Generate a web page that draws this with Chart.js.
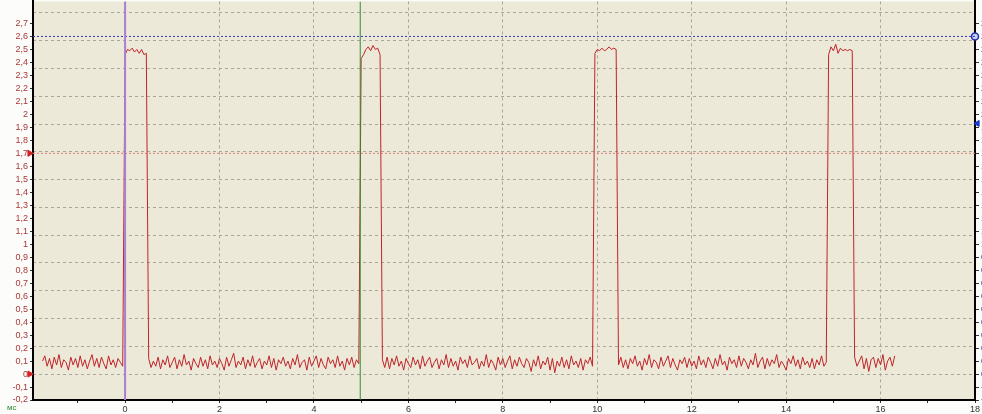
<!DOCTYPE html>
<html>
<head>
<meta charset="utf-8">
<title>Oscillogram</title>
<script src="https://cdn.jsdelivr.net/npm/chart.js@4/dist/chart.umd.min.js"></script>
<style>
  html, body { margin: 0; padding: 0; background: #fcfcfa; overflow: hidden; }
  #wrap { position: absolute; left: 0; top: -6px; width: 982px; height: 420px; }
  #unit { position: absolute; left: 7px; top: 403px; font: 8px "Liberation Sans", Arial, sans-serif; color: #2e8b2e; }
</style>
</head>
<body>
<div id="wrap"><canvas id="scope" width="982" height="420"></canvas></div>
<span id="unit">мс</span>
<script>
/* Scope trace: one sample every DT ms starting at T0, values in 0.01 V. */
var T0 = -1.75, DT = 0.05;
var LOW_1 = [10,14,6,12,4,13,7,15,5,11, 9,3,13,7,12,5,14,6,11,4, 10,15,6,12,5,13,8,4,14,7, 11,5,12,9,6];
var PULSE_1 = [246,250,249,251,248,250,247,250,246,247];
var LOW_2 = [12,5,10,6,13,4,11,7,14,5, 9,13,4,11,6,15,7,10,3,12, 8,5,13,6,11,4,14,7,10,5,
  12,8,3,13,6,11,16,5,10,7, 13,4,11,6,14,5,9,12,4,10, 7,14,5,12,3,11,8,13,6,10,
  4,12,7,15,5,9,11,3,13,6, 10,14,5,12,7,4,13,8,11,5, 14,6,10,3,12,7,13,5,11,8];
var PULSE_2 = [243,246,250,252,249,253,250,251,246];
var LOW_3 = [11,5,13,4,12,7,14,6,10,3, 12,8,5,13,7,11,4,14,6,10, 13,5,9,12,4,11,7,15,5,12,
  6,10,3,13,8,11,5,14,7,9, 12,4,10,6,15,5,11,8,3,13, 7,12,5,10,14,4,11,6,13,8,
  5,12,9,2,11,6,14,4,10,7, 13,3,12,1,10,6,13,5,11,4, 14,7,10,5,12,3,11,8,13,6];
var PULSE_3 = [247,250,249,251,249,250,252,250,251,250];
var LOW_4 = [7,13,5,11,4,12,8,14,6,10, 3,12,7,15,5,11,9,4,13,6, 10,14,5,12,7,3,11,8,13,5,
  12,6,10,4,14,7,11,5,13,9, 4,12,6,15,7,10,3,13,8,11, 5,14,6,12,9,4,11,7,16,5,
  10,13,4,12,6,11,8,15,5,10, 7,3,12,8,14,6,11,4,13,7, 10,5,12,4,11,7,14,6,9];
var PULSE_4 = [246,252,249,254,247,251,249,250,249,250,249];
var LOW_5 = [13,6,10,14,4,12,2,11,13,5,12,7,15,3,10,13,6,14];

var X_MIN = -1.95, X_MAX = 18, Y_MIN = -0.2, Y_MAX = 2.87;
var X_TICKS = [-1,0,1,2,3,4,5,6,7,8,9,10,11,12,13,14,15,16,17,18];
var Y_TICKS = [-0.2,-0.1,0,0.1,0.2,0.3,0.4,0.5,0.6,0.7,0.8,0.9,1,1.1,1.2,1.3,1.4,1.5,
  1.6,1.7,1.8,1.9,2,2.1,2.2,2.3,2.4,2.5,2.6,2.7];
var GRID_Y = [0,0.214,0.428,0.642,0.856,1.07,1.283,1.497,1.711,1.925,2.139,2.353,2.567,2.781];
var CURSOR_T1 = 0, CURSOR_T2 = 4.98;
var CURSOR_V1 = 2.6, CURSOR_V2 = 1.7, ZERO_MARK = 0, RIGHT_MARK = 1.93;

var trace = [].concat(LOW_1, PULSE_1, LOW_2, PULSE_2, LOW_3, PULSE_3, LOW_4, PULSE_4, LOW_5)
  .map(function (v, i) { return { x: T0 + i * DT, y: v / 100 }; });

var GRID = "#a9a79c", FONT = { family: "'Liberation Sans', Arial, sans-serif", size: 9 };

function fmt(v) { return String(Math.round(v * 10) / 10).replace(".", ","); }
function fixTicks(list) { return function (s) { s.ticks = list.map(function (v) { return { value: v }; }); }; }

var plotBg = {
  id: "plotBg",
  beforeDraw: function (c) {
    var a = c.chartArea;
    c.ctx.save();
    c.ctx.fillStyle = "#ece9d8";
    c.ctx.fillRect(a.left, a.top, a.right - a.left, a.bottom - a.top);
    c.ctx.restore();
  }
};

function vline(x, color, w) {
  return { data: [{ x: x, y: Y_MIN }, { x: x, y: Y_MAX }], borderColor: color, borderWidth: w, pointRadius: 0 };
}
function hline(y, color) {
  return { data: [{ x: X_MIN, y: y }, { x: X_MAX, y: y }], borderColor: color, borderWidth: 1, borderDash: [2, 2], pointRadius: 0 };
}

new Chart(document.getElementById("scope"), {
  type: "line",
  data: {
    datasets: [
      vline(CURSOR_T1, "#a97fd2", 2),
      vline(CURSOR_T2, "#2f8f2f", 1),
      hline(CURSOR_V1, "#3838c8"),
      hline(CURSOR_V2, "#e07a7a"),
      { data: trace, borderColor: "#c0242a", borderWidth: 1, pointRadius: 0, tension: 0 },
      { data: [{ x: X_MIN - 0.07, y: CURSOR_V2 }, { x: X_MIN - 0.07, y: ZERO_MARK }], showLine: false, clip: false,
        pointStyle: "triangle", rotation: 90, pointRadius: 3.5, backgroundColor: "#d42020", borderColor: "#d42020" },
      { data: [{ x: X_MAX, y: CURSOR_V1 }], showLine: false, clip: false,
        pointStyle: "circle", pointRadius: 3.5, backgroundColor: "#c8d0f0", borderColor: "#2030b0", borderWidth: 1.5 },
      { data: [{ x: X_MAX + 0.05, y: RIGHT_MARK }], showLine: false, clip: false,
        pointStyle: "triangle", rotation: -90, pointRadius: 3.5, backgroundColor: "#1838c8", borderColor: "#1838c8" }
    ]
  },
  options: {
    responsive: false, animation: false, devicePixelRatio: 1,
    layout: { padding: 0 },
    plugins: { legend: { display: false }, tooltip: { enabled: false } },
    scales: {
      x: {
        type: "linear", min: X_MIN, max: X_MAX,
        afterBuildTicks: fixTicks(X_TICKS),
        afterFit: function (s) { s.height = 14; },
        ticks: { font: FONT, color: "#333", padding: 1, maxRotation: 0, autoSkip: false,
          callback: function (v) { return v % 2 === 0 ? String(v) : ""; } },
        grid: { color: function (c) { return c.tick && c.tick.value % 2 === 0 ? GRID : "rgba(0,0,0,0)"; },
          tickColor: "#333", tickLength: 3 },
        border: { color: "#000", width: 2, dash: [3, 3] }
      },
      y: {
        position: "left", min: Y_MIN, max: Y_MAX,
        afterBuildTicks: fixTicks(Y_TICKS),
        afterFit: function (s) { s.width = 33; },
        ticks: { font: FONT, color: "#a83838", padding: 2, autoSkip: false, callback: fmt },
        grid: { drawOnChartArea: false, tickColor: "#333", tickLength: 3 },
        border: { color: "#000", width: 2 }
      },
      yGrid: {
        position: "left", min: Y_MIN, max: Y_MAX,
        afterBuildTicks: fixTicks(GRID_Y),
        afterFit: function (s) { s.width = 0; },
        ticks: { display: false },
        grid: { color: GRID, drawTicks: false },
        border: { display: false, dash: [3, 3] }
      },
      yRight: {
        position: "right", min: Y_MIN, max: Y_MAX,
        afterBuildTicks: fixTicks(Y_TICKS),
        afterFit: function (s) { s.width = 7; },
        ticks: { font: FONT, color: "#2030a0", padding: 2, autoSkip: false, callback: fmt },
        grid: { drawOnChartArea: false, tickColor: "#333", tickLength: 4 },
        border: { color: "#000", width: 2 }
      }
    }
  },
  plugins: [plotBg]
});
</script>
</body>
</html>
